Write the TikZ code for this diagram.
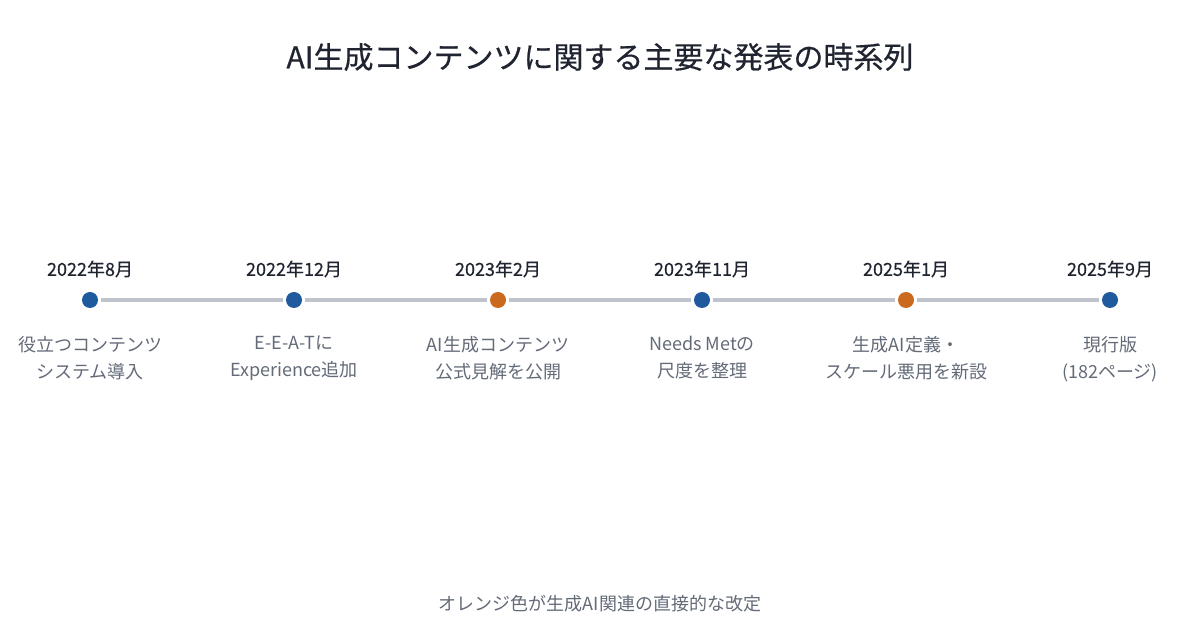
\documentclass[tikz,border=0pt]{standalone}
\usepackage{fontspec}
\setmainfont{Noto Sans CJK JP}
\newfontfamily\jpmed[FakeBold=0.5]{Noto Sans CJK JP}
\definecolor{tdark}{HTML}{1F2430}
\definecolor{tgray}{HTML}{646B78}
\definecolor{lgray}{HTML}{BEC3CC}
\definecolor{dblue}{HTML}{1F5A9E}
\definecolor{dorange}{HTML}{C96A1E}
\begin{document}
\begin{tikzpicture}[x=0.75pt,y=-0.75pt,
  dot/.style={circle,inner sep=0pt,minimum size=12pt,outer sep=2.2pt},
  bluedot/.style={dot,fill=dblue},
  orangedot/.style={dot,fill=dorange},
  datelbl/.style={text=tdark,font=\jpmed\fontsize{13.5}{16}\selectfont,anchor=center},
  desclbl/.style={text=tgray,font=\fontsize{13.5}{20.25}\selectfont,align=center,anchor=north},
  conn/.style={draw=lgray,line width=3pt}]
\fill[white] (0,0) rectangle (1200,630);
\useasboundingbox (0,0) rectangle (1200,630);
\node[text=tdark,font=\jpmed\fontsize{22.5}{26}\selectfont] (title) at (600,57) {AI生成コンテンツに関する主要な発表の時系列};
\node[bluedot] (d1) at (90,300) {};
\node[bluedot] (d2) at (294,300) {};
\node[orangedot] (d3) at (498,300) {};
\node[bluedot] (d4) at (702,300) {};
\node[orangedot] (d5) at (906,300) {};
\node[bluedot] (d6) at (1110,300) {};
\draw[conn] (d1) -- (d2);
\draw[conn] (d2) -- (d3);
\draw[conn] (d3) -- (d4);
\draw[conn] (d4) -- (d5);
\draw[conn] (d5) -- (d6);
\node[datelbl] (t1) at (90,269) {2022年8月};
\node[datelbl] (t2) at (294,269) {2022年12月};
\node[datelbl] (t3) at (498,269) {2023年2月};
\node[datelbl] (t4) at (702,269) {2023年11月};
\node[datelbl] (t5) at (906,269) {2025年1月};
\node[datelbl] (t6) at (1110,269) {2025年9月};
\node[desclbl] (e1) at (90,331.5) {役立つコンテンツ\\システム導入};
\node[desclbl] (e2) at (294,331.5) {E-E-A-Tに\\Experience追加};
\node[desclbl] (e3) at (498,331.5) {AI生成コンテンツ\\公式見解を公開};
\node[desclbl] (e4) at (702,331.5) {Needs Metの\\尺度を整理};
\node[desclbl] (e5) at (906,331.5) {生成AI定義・\\スケール悪用を新設};
\node[desclbl] (e6) at (1110,331.5) {現行版\\(182ページ)};
\node[text=tgray,font=\fontsize{13.5}{16}\selectfont] (foot) at (600,604) {オレンジ色が生成AI関連の直接的な改定};
\end{tikzpicture}
\end{document}
